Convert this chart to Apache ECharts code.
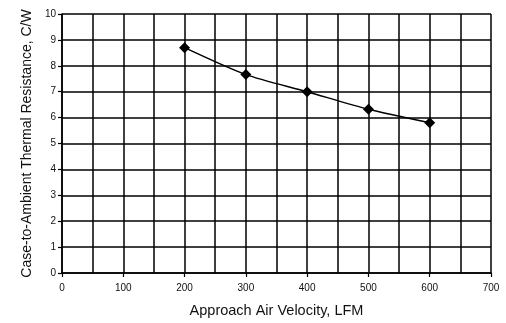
<!DOCTYPE html>
<html>
<head>
<meta charset="utf-8">
<script src="https://cdn.jsdelivr.net/npm/echarts@6/dist/echarts.min.js"></script>
<style>
html, body { margin: 0; padding: 0; background: #fff; }
#chart { width: 506px; height: 323px; }
</style>
</head>
<body>
<div id="chart"></div>
<script>
// air velocity (LFM) vs case-to-ambient thermal resistance (C/W)
var velocity = [200, 300, 400, 500, 600];
var resistance = [8.7, 7.66, 7.0, 6.32, 5.8];

var chart = echarts.init(document.getElementById('chart'));
var font = 'Liberation Sans, Arial, sans-serif';

var option = {
    animation: false,
    backgroundColor: '#fff',
    grid: { left: 62, right: 15, top: 14, bottom: 50 },
    xAxis: {
        type: 'value',
        min: 0,
        max: 700,
        interval: 100,
        name: 'Approach Air Velocity, LFM',
        nameLocation: 'middle',
        nameGap: 30,
        nameTextStyle: { color: '#111', fontSize: 14.5, fontFamily: font },
        axisLine: { show: true, lineStyle: { color: '#000', width: 1.5 } },
        axisTick: { show: true, length: 4, lineStyle: { color: '#000', width: 1.2 } },
        axisLabel: { color: '#111', fontSize: 10, fontFamily: font, margin: 10 },
        splitLine: { show: true, lineStyle: { color: '#000', width: 1.5 } },
        minorTick: { show: false, splitNumber: 2 },
        minorSplitLine: { show: true, lineStyle: { color: '#000', width: 1.5 } }
    },
    yAxis: {
        type: 'value',
        min: 0,
        max: 10,
        interval: 1,
        name: 'Case-to-Ambient Thermal Resistance, C/W',
        nameLocation: 'middle',
        nameGap: 28,
        nameTextStyle: { color: '#111', fontSize: 14, fontFamily: font },
        axisLine: { show: true, lineStyle: { color: '#000', width: 1.5 } },
        axisTick: { show: true, length: 4, lineStyle: { color: '#000', width: 1.2 } },
        axisLabel: { color: '#111', fontSize: 10, fontFamily: font, margin: 6 },
        splitLine: { show: true, lineStyle: { color: '#000', width: 1.5 } }
    },
    series: [
        {
            type: 'line',
            data: velocity.map(function (v, i) { return [v, resistance[i]]; }),
            smooth: 0.25,
            symbol: 'diamond',
            symbolSize: 11,
            itemStyle: { color: '#000' },
            lineStyle: { color: '#000', width: 1.5 }
        }
    ]
};

chart.setOption(option);
</script>
</body>
</html>
